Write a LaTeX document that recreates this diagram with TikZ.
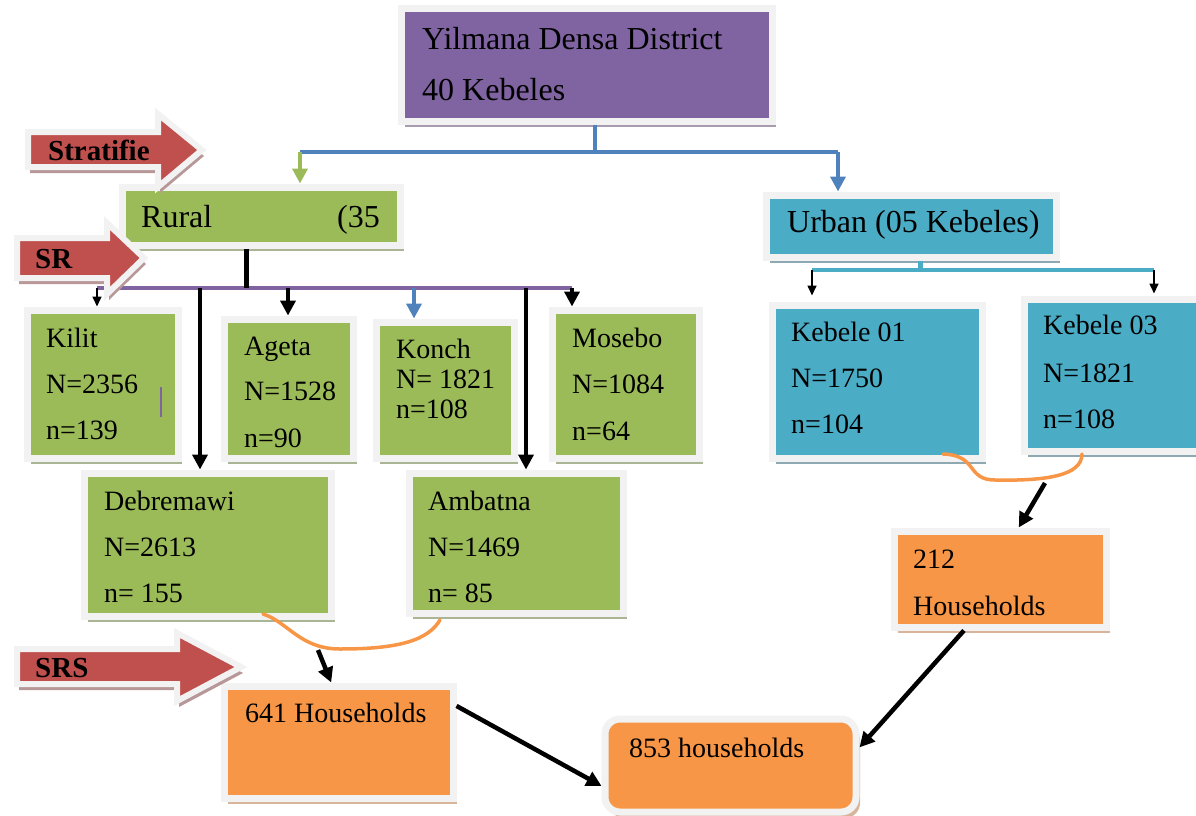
\documentclass[tikz,border=0pt]{standalone}
\usepackage{fontspec}
\setmainfont{Liberation Serif}
\usetikzlibrary{arrows.meta,shadows,fit}
\definecolor{cpur}{HTML}{8064A2}
\definecolor{cgrn}{HTML}{9BBB59}
\definecolor{cteal}{HTML}{4BACC6}
\definecolor{corg}{HTML}{F79646}
\definecolor{cred}{HTML}{C0504D}
\definecolor{cblu}{HTML}{4F81BD}
\definecolor{cfrm}{HTML}{F2F2F2}
\definecolor{gshad}{HTML}{A9B595}
\definecolor{tshad}{HTML}{8FA9B3}
\definecolor{oshad}{HTML}{D8B49A}
\definecolor{pshad}{HTML}{A89BB0}
\definecolor{rshad}{HTML}{B79797}
\tikzset{
  boxbase/.style={draw=cfrm, line width=7pt, inner sep=0pt},
  gbox/.style={boxbase, fill=cgrn, drop shadow={shadow xshift=4pt, shadow yshift=-6pt, fill=gshad, opacity=1}},
  tbox/.style={boxbase, fill=cteal, drop shadow={shadow xshift=4pt, shadow yshift=-6pt, fill=tshad, opacity=1}},
  obox/.style={boxbase, fill=corg, drop shadow={shadow xshift=4pt, shadow yshift=-6pt, fill=oshad, opacity=1}},
  pbox/.style={boxbase, fill=cpur, drop shadow={shadow xshift=4pt, shadow yshift=-6pt, fill=pshad, opacity=1}},
  redarrow/.style={fill=cred, draw=cfrm, line width=6pt, line join=miter, drop shadow={shadow xshift=2pt, shadow yshift=-6pt, fill=rshad, opacity=1}},
  txt/.style={anchor=base west, inner sep=0pt, font=\fontsize{28}{30}\selectfont},
  bigtxt/.style={anchor=base west, inner sep=0pt, font=\fontsize{32}{36}\selectfont},
  btxt/.style={anchor=base west, inner sep=0pt, font=\bfseries\fontsize{29}{32}\selectfont},
  thk/.style={line width=4.5pt, -{Triangle[length=15pt,width=15pt]}},
  thn/.style={line width=1.6pt, -{Triangle[length=10pt,width=9pt]}},
  orn/.style={draw=corg, line width=3.5pt, line cap=round},
}
\begin{document}
\begin{tikzpicture}[x=1pt,y=-1pt]
\useasboundingbox (0,0) rectangle (1196,816);

% ---------- boxes ----------
\node[pbox, fit={(401,9) (772,121)}] (top) {};
\node[gbox, fit={(122,187) (400,245)}] (rural) {};
\node[tbox, fit={(766,195) (1056,257)}] (urban) {};
\node[gbox, fit={(27,310) (178,458)}] (kilit) {};
\node[gbox, fit={(224,319) (353,458)}] (ageta) {};
\node[gbox, fit={(376,322) (514,458)}] (konch) {};
\node[gbox, fit={(552,310) (699,458)}] (mosebo) {};
\node[gbox, fit={(84,473) (331,616)}] (debre) {};
\node[gbox, fit={(409,473) (623,613)}] (ambat) {};
\node[tbox, fit={(772,305) (982,458)}] (keb1) {};
\node[tbox, fit={(1024,299) (1225,451)}] (keb3) {};
\node[obox, fit={(894,531) (1106,627)}] (hh212) {};
\node[obox, fit={(224,686) (453,798)}] (hh641) {};
\node[obox, rounded corners=15pt, fit={(605,719) (856,812)}] (hh853) {};

% ---------- texts ----------
\node[bigtxt] (t1) at (422,50) {Yilmana Densa District};
\node[bigtxt] (t2) at (422,100) {40 Kebeles};
\node[bigtxt] (t3) at (141,227) {Rural};
\node[bigtxt] (t4) at (337,227) {(35};
\node[bigtxt] (t5) at (787,232) {Urban (05 Kebeles)};

\node[txt] (k1) at (46,347) {Kilit};
\node[txt] (k2) at (46,393) {N=2356};
\node[txt] (k3) at (46,439) {n=139};
\node[txt] (a1) at (244,355) {Ageta};
\node[txt] (a2) at (244,400) {N=1528};
\node[txt] (a3) at (244,447) {n=90};
\node[txt] (c1) at (396,358) {Konch};
\node[txt] (c2) at (396,388) {N= 1821};
\node[txt] (c3) at (396,418) {n=108};
\node[txt] (m1) at (572,347) {Mosebo};
\node[txt] (m2) at (572,393) {N=1084};
\node[txt] (m3) at (572,440) {n=64};
\node[txt] (d1) at (104,510) {Debremawi};
\node[txt] (d2) at (104,556) {N=2613};
\node[txt] (d3) at (104,602) {n= 155};
\node[txt] (b1) at (428,510) {Ambatna};
\node[txt] (b2) at (428,556) {N=1469};
\node[txt] (b3) at (428,602) {n= 85};
\node[txt] (e1) at (791,341) {Kebele 01};
\node[txt] (e2) at (791,387) {N=1750};
\node[txt] (e3) at (791,433) {n=104};
\node[txt] (f1) at (1043,334) {Kebele 03};
\node[txt] (f2) at (1043,382) {N=1821};
\node[txt] (f3) at (1043,428) {n=108};
\node[txt] (h1) at (913,568) {212};
\node[txt] (h2) at (913,615) {Households};
\node[txt] (h3) at (245,722) {641 Households};
\node[txt] (h4) at (629,757) {853 households};

\draw[cpur, line width=2pt] (161,387) -- (161,417);

% ---------- connectors ----------
\coordinate (jt) at (595,152);
\coordinate (jtl) at (300,152);
\coordinate (jtr) at (838,152);
\draw[cblu, line width=4.5pt] (top.south -| jt) -- (jt);
\draw[cblu, line width=4pt] (jtl) -- (jtr);
\draw[cgrn, thk] (jtl) -- (rural.north -| jtl);
\draw[cblu, thk] (jtr) -- (urban.north -| jtr);

\coordinate (jr) at (246,288);
\coordinate (pl) at (97,288);
\coordinate (pr) at (572,288);
\coordinate (p2) at (200,288);
\coordinate (p3) at (288,288);
\coordinate (p4) at (414,288);
\coordinate (p5) at (526,288);
\draw[cpur, line width=4pt] (pl) -- (pr);
\draw[black, line width=5pt] (rural.south -| jr) -- (jr);
\draw[black, thn] (pl) -- (kilit.north -| pl);
\draw[black, thk] (p2) -- (debre.north -| p2);
\draw[black, thk] (p3) -- (ageta.north -| p3);
\draw[cblu, thk] (p4) -- (konch.north -| p4);
\draw[black, thk] (p5) -- (ambat.north -| p5);
\draw[black, thk] (pr) -- (mosebo.north -| pr);

\coordinate (ju) at (920,270);
\coordinate (ul) at (812,270);
\coordinate (ur) at (1154,270);
\draw[cteal, line width=5pt] (urban.south -| ju) -- (ju);
\draw[cteal, line width=4pt] (ul) -- (ur);
\draw[black, thn, shorten >=6pt] (ul) -- (keb1.north -| ul);
\draw[black, thn, shorten >=2pt] (ur) -- (keb3.north -| ur);

% orange braces
\coordinate (o1) at (263,614);
\coordinate (o2) at (440,620);
\draw[orn] (o1) .. controls (288,622) and (300,649) .. (340,649) .. controls (400,649) and (428,640) .. (o2);
\coordinate (o3) at (943,454);
\coordinate (o4) at (1082,454);
\draw[orn] (o3) .. controls (978,455) and (966,480) .. (995,480) .. controls (1045,481) and (1082,476) .. (o4);

\coordinate (s1) at (318,650);
\draw[black, thk] (s1) -- (hh641.97);
\coordinate (s2) at (1045,483);
\draw[black, thk] (s2) -- (hh212.70);
\draw[black, thk] (hh212.235) -- (hh853.8);
\draw[black, thk] (hh641.17) -- (hh853.189);

% ---------- red arrows ----------
\draw[redarrow] (28,132) -- (158,132) -- (158,114) -- (202,150) -- (158,187) -- (158,167) -- (28,167) -- cycle;
\node[btxt] (tstrat) at (48,160) {Stratifie};
\draw[redarrow] (17,238) -- (107,238) -- (107,223) -- (144,258) -- (107,294) -- (107,278) -- (17,278) -- cycle;
\node[btxt] (tsr) at (35,268) {SR};
\draw[redarrow] (17,649) -- (177,649) -- (177,633) -- (241,667) -- (177,701) -- (177,684) -- (17,684) -- cycle;
\node[btxt] (tsrs) at (35,677) {SRS};
\end{tikzpicture}
\end{document}
